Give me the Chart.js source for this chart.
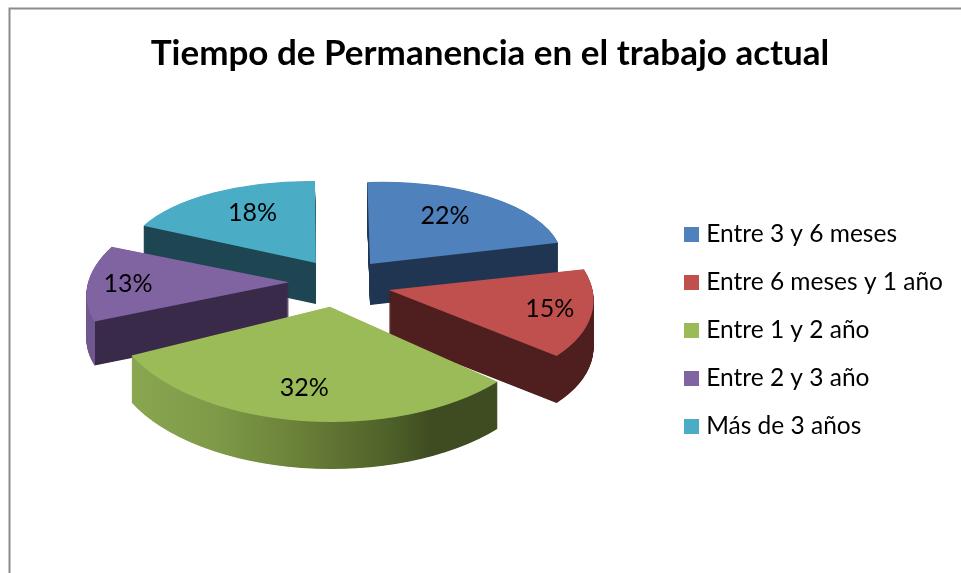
<!DOCTYPE html>
<html lang="es">
<head>
<meta charset="utf-8">
<title>Tiempo de Permanencia en el trabajo actual</title>
<style>html,body{margin:0;padding:0;background:#fff}canvas{display:block}</style>
<script src="https://cdn.jsdelivr.net/npm/chart.js@4"></script>
</head>
<body>
<canvas id="c" width="961" height="573"></canvas>
<script>
const chartTitle = 'Tiempo de Permanencia en el trabajo actual';
const categories = ['Entre 3 y 6 meses', 'Entre 6 meses y 1 año', 'Entre 1 y 2 año', 'Entre 2 y 3 año', 'Más de 3 años'];
const shares = [22, 15, 32, 13, 18];
const valueLabels = ['22%', '15%', '32%', '13%', '18%'];
const faceColors = ['#4f81bd', '#c0504d', '#9bbb59', '#8064a2', '#4bacc6'];
const wallColors = ['#1f3552', '#4f1e1e', '#3f4c22', '#3a2a4a', '#1d4552'];
const explode = [220, 224, 216, 184, 180];

/* presentation of the tilted 3D pie */
const FONT = 'Lato, Carlito, sans-serif';
const drawOrder = [4, 0, 3, 1, 2];
const shapes = [[192, -5.8, 3, 82], [203, -3, 27, 101], [219, -6, 13, 115], [202, -5, -16, 97], [191, 2, 0, 82]];
const nudges = [[0, 0], [0, 0], [5, 0], [0, 0], [5, -3]];
const depths = [41, 47, 47, 44, 41];
const labelReach = [0.6, 0.82, 0.73, 0.77, 0.62];
const labelNudges = [[3, -8], [-5, -2], [-5, -2], [-6, 0], [0, -6]];
const pieCentre = [335, 283];
const tilt = 0.45;
const legendDrop = 44;

function placement(el, i) {
  const half = (el.startAngle + el.endAngle) / 2;
  const o = (el.options.offset || 0) / 4;
  const fix = 1 - Math.sin(Math.min(Math.PI, el.circumference));
  const r = el.outerRadius + o * fix;
  const ox = Math.cos(half) * o, oy = Math.sin(half) * o;
  return {
    half, r,
    ax: el.x + ox, ay: el.y + oy,
    sx: pieCentre[0] + ox + nudges[i][0],
    sy: pieCentre[1] + oy * tilt + nudges[i][1]
  };
}
function applyShape(ctx, p, i, dy) {
  const [a, b, c, d] = shapes[i];
  ctx.translate(p.sx, p.sy + dy);
  ctx.transform(a / p.r, b / p.r, c / p.r, d / p.r, 0, 0);
  ctx.translate(-p.ax, -p.ay);
}
function wallFill(ctx, p, i) {
  const a = shapes[i][0];
  if (i === 2) {
    const g = ctx.createLinearGradient(p.sx - a, 0, p.sx + a, 0);
    g.addColorStop(0.045, '#8aa650');
    g.addColorStop(0.24, '#7e9a48');
    g.addColorStop(0.43, '#6a8038');
    g.addColorStop(0.635, '#4e6129');
    g.addColorStop(0.73, wallColors[2]);
    g.addColorStop(1, wallColors[2]);
    return g;
  }
  if (i === 3) {
    const g = ctx.createLinearGradient(p.sx - a, 0, p.sx - 0.8 * a, 0);
    g.addColorStop(0, '#6f5790');
    g.addColorStop(0.19, '#6f5790');
    g.addColorStop(0.2, wallColors[3]);
    g.addColorStop(1, wallColors[3]);
    return g;
  }
  return wallColors[i];
}
function paintArc(ctx, el, fill) {
  const saved = el.options;
  el.options = {
    backgroundColor: fill, borderColor: fill, borderWidth: 0, borderAlign: 'center',
    offset: saved.offset, spacing: 0, circular: true, borderRadius: 0,
    borderDash: [], borderDashOffset: 0, borderJoinStyle: 'round', selfJoin: false
  };
  el.draw(ctx);
  el.options = saved;
}
/* the extruded wall is swept on a scratch canvas as a mask, then flooded with one fill */
function paintWall(chart, el, p, i) {
  const scratch = document.createElement('canvas');
  scratch.width = chart.width;
  scratch.height = chart.height;
  const sc = scratch.getContext('2d');
  for (let d = depths[i]; d >= 0.5; d -= 0.5) {
    sc.save();
    applyShape(sc, p, i, d);
    paintArc(sc, el, '#000');
    sc.restore();
  }
  sc.globalCompositeOperation = 'source-in';
  sc.fillStyle = wallFill(sc, p, i);
  sc.fillRect(0, 0, scratch.width, scratch.height);
  chart.ctx.drawImage(scratch, 0, 0);
}
const tiltedPie = {
  id: 'tiltedPie',
  afterLayout(chart) {
    chart.legend.top += legendDrop;
    chart.legend.bottom += legendDrop;
  },
  beforeDraw(chart) {
    const ctx = chart.ctx;
    ctx.save();
    ctx.strokeStyle = '#8c8c8c';
    ctx.lineWidth = 2;
    ctx.beginPath();
    ctx.moveTo(961, 8.5);
    ctx.lineTo(9.5, 8.5);
    ctx.lineTo(9.5, 573);
    ctx.stroke();
    ctx.restore();
  },
  beforeDatasetsDraw(chart) {
    const ctx = chart.ctx;
    const arcs = chart.getDatasetMeta(0).data;
    drawOrder.forEach(i => {
      const el = arcs[i];
      const p = placement(el, i);
      paintWall(chart, el, p, i);
      ctx.save();
      applyShape(ctx, p, i, 0);
      paintArc(ctx, el, faceColors[i]);
      ctx.restore();
    });
    return false;
  },
  afterDraw(chart) {
    const ctx = chart.ctx;
    const arcs = chart.getDatasetMeta(0).data;
    ctx.save();
    ctx.fillStyle = '#000';
    ctx.font = '25px ' + FONT;
    ctx.textAlign = 'center';
    ctx.textBaseline = 'middle';
    arcs.forEach((el, i) => {
      const p = placement(el, i);
      const X = Math.cos(p.half) * labelReach[i], Y = Math.sin(p.half) * labelReach[i];
      const [a, b, c, d] = shapes[i];
      ctx.fillText(valueLabels[i],
        p.sx + a * X + c * Y + labelNudges[i][0],
        p.sy + b * X + d * Y + labelNudges[i][1]);
    });
    ctx.restore();
  }
};
function legendSwatch(color) {
  const s = document.createElement('canvas');
  s.width = 15; s.height = 15;
  const g = s.getContext('2d');
  g.fillStyle = color;
  g.fillRect(0, 0, 15, 15);
  return s;
}
new Chart(document.getElementById('c'), {
  type: 'pie',
  data: {
    labels: categories,
    datasets: [{ data: shares, backgroundColor: faceColors, offset: explode, borderWidth: 0 }]
  },
  options: {
    responsive: false,
    animation: false,
    layout: { padding: { left: 27, right: 8, top: 0, bottom: 0 } },
    plugins: {
      tooltip: { enabled: false },
      title: {
        display: true, text: chartTitle, color: '#000',
        font: { family: FONT, size: 35, weight: 'bold' },
        padding: { top: 33, bottom: 13 }
      },
      legend: {
        position: 'right',
        labels: {
          color: '#000',
          font: { family: FONT, size: 24.5 },
          padding: 23.5,
          boxWidth: 4.5,
          boxHeight: 15,
          usePointStyle: true,
          pointStyleWidth: 4.5,
          generateLabels(chart) {
            return categories.map((t, i) => ({
              text: t, fillStyle: faceColors[i], strokeStyle: faceColors[i], lineWidth: 0,
              pointStyle: legendSwatch(faceColors[i]), hidden: false, index: i, fontColor: '#000'
            }));
          }
        }
      }
    }
  },
  plugins: [tiltedPie]
});
</script>
</body>
</html>
